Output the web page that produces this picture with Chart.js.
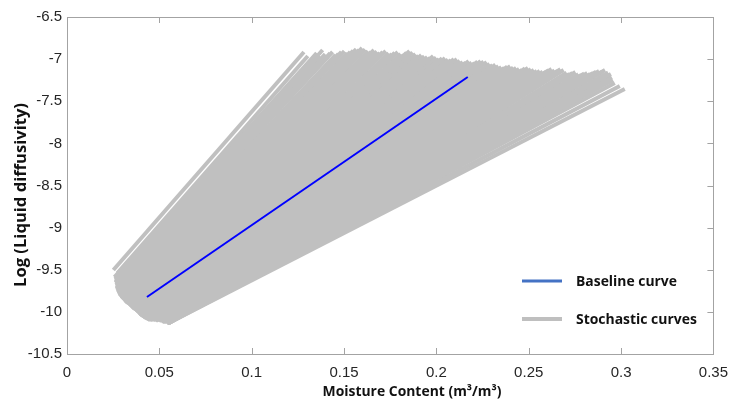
<!DOCTYPE html>
<html>
<head>
<meta charset="utf-8">
<script src="https://cdn.jsdelivr.net/npm/chart.js@4.4.0/dist/chart.umd.min.js"></script>
<style>
  html, body { margin: 0; padding: 0; background: #fff; }
  canvas { display: block; }
</style>
</head>
<body>
<canvas id="chart" width="738" height="405"></canvas>
<script>
const xTicks = [0, 0.05, 0.1, 0.15, 0.2, 0.25, 0.3, 0.35];
const yTicks = [-10.5, -10, -9.5, -9, -8.5, -8, -7.5, -7, -6.5];

// baseline curve, straight line in log space
const baselineX = [0.0433, 0.217];
const baselineY = [-9.824, -7.212];

// stochastic curves: one straight segment each (start -> end)
const curveStartX = [
  0.0251, 0.0273, 0.0257, 0.0260, 0.0262, 0.0262, 0.0262, 0.0265, 0.0267, 0.0267,
  0.0267, 0.0270, 0.0273, 0.0275, 0.0278, 0.0281, 0.0283, 0.0286, 0.0289, 0.0292,
  0.0294, 0.0300, 0.0305, 0.0308, 0.0310, 0.0313, 0.0315, 0.0321, 0.0326, 0.0329,
  0.0331, 0.0334, 0.0337, 0.0342, 0.0347, 0.0350, 0.0353, 0.0358, 0.0363, 0.0366,
  0.0369, 0.0372, 0.0374, 0.0380, 0.0385, 0.0388, 0.0390, 0.0393, 0.0396, 0.0401,
  0.0406, 0.0409, 0.0412, 0.0417, 0.0422, 0.0428, 0.0433, 0.0436, 0.0438, 0.0444,
  0.0449, 0.0452, 0.0454, 0.0460, 0.0465, 0.0468, 0.0470, 0.0476, 0.0481, 0.0484,
  0.0486, 0.0492, 0.0497, 0.0500, 0.0502, 0.0508, 0.0513, 0.0516, 0.0518, 0.0521,
  0.0524, 0.0527, 0.0529, 0.0532, 0.0535, 0.0538, 0.0540, 0.0540, 0.0540, 0.0540,
  0.0540, 0.0543, 0.0545, 0.0545, 0.0545, 0.0545, 0.0545, 0.0545, 0.0545, 0.0548,
  0.0551, 0.0551, 0.0551, 0.0551, 0.0551, 0.0551, 0.0551, 0.0551
];
const curveStartY = [
  -9.503, -9.539, -9.586, -9.604, -9.622, -9.640, -9.657, -9.675, -9.693, -9.711,
  -9.729, -9.746, -9.764, -9.776, -9.788, -9.800, -9.812, -9.818, -9.824, -9.836,
  -9.847, -9.853, -9.859, -9.871, -9.883, -9.889, -9.895, -9.901, -9.907, -9.913,
  -9.919, -9.925, -9.930, -9.942, -9.954, -9.960, -9.966, -9.972, -9.978, -9.984,
  -9.990, -9.996, -10.002, -10.014, -10.025, -10.031, -10.037, -10.043, -10.049, -10.055,
  -10.061, -10.067, -10.073, -10.079, -10.085, -10.091, -10.097, -10.097, -10.097, -10.097,
  -10.097, -10.097, -10.097, -10.097, -10.097, -10.097, -10.097, -10.103, -10.108, -10.103,
  -10.097, -10.103, -10.108, -10.108, -10.108, -10.114, -10.120, -10.120, -10.120, -10.120,
  -10.120, -10.120, -10.120, -10.120, -10.120, -10.120, -10.120, -10.126, -10.132, -10.132,
  -10.132, -10.132, -10.132, -10.132, -10.132, -10.132, -10.132, -10.132, -10.132, -10.132,
  -10.132, -10.132, -10.132, -10.126, -10.132, -10.126, -10.132, -10.132
];
const curveEndX = [
  0.1283, 0.1304, 0.1352, 0.1368, 0.1384, 0.1398, 0.1411, 0.1425, 0.1438, 0.1454,
  0.1470, 0.1486, 0.1502, 0.1518, 0.1534, 0.1550, 0.1566, 0.1582, 0.1598, 0.1614,
  0.1630, 0.1646, 0.1662, 0.1678, 0.1694, 0.1710, 0.1726, 0.1742, 0.1759, 0.1775,
  0.1791, 0.1807, 0.1823, 0.1839, 0.1855, 0.1871, 0.1887, 0.1903, 0.1919, 0.1935,
  0.1951, 0.1967, 0.1983, 0.1999, 0.2015, 0.2031, 0.2047, 0.2063, 0.2079, 0.2095,
  0.2111, 0.2127, 0.2143, 0.2159, 0.2175, 0.2191, 0.2207, 0.2223, 0.2240, 0.2256,
  0.2272, 0.2288, 0.2304, 0.2320, 0.2336, 0.2352, 0.2368, 0.2384, 0.2400, 0.2416,
  0.2432, 0.2448, 0.2464, 0.2480, 0.2496, 0.2512, 0.2528, 0.2544, 0.2560, 0.2576,
  0.2592, 0.2608, 0.2624, 0.2640, 0.2656, 0.2672, 0.2689, 0.2705, 0.2721, 0.2737,
  0.2753, 0.2769, 0.2785, 0.2801, 0.2817, 0.2833, 0.2849, 0.2865, 0.2881, 0.2897,
  0.2913, 0.2930, 0.2945, 0.2950, 0.2956, 0.2966, 0.2993, 0.3020
];
const curveEndY = [
  -6.915, -6.963, -6.927, -6.960, -6.892, -6.940, -6.975, -6.930, -6.915, -6.950,
  -6.939, -6.915, -6.904, -6.930, -6.915, -6.900, -6.880, -6.890, -6.868, -6.885,
  -6.904, -6.915, -6.892, -6.910, -6.927, -6.915, -6.904, -6.930, -6.939, -6.925,
  -6.915, -6.940, -6.951, -6.925, -6.904, -6.920, -6.939, -6.960, -6.951, -6.965,
  -6.975, -6.985, -6.963, -6.980, -6.999, -6.990, -6.987, -7.005, -7.010, -7.000,
  -6.999, -7.020, -7.034, -7.040, -7.022, -7.040, -7.046, -7.030, -7.022, -7.030,
  -7.034, -7.055, -7.070, -7.065, -7.082, -7.095, -7.105, -7.090, -7.082, -7.100,
  -7.105, -7.115, -7.129, -7.110, -7.105, -7.120, -7.129, -7.140, -7.141, -7.150,
  -7.153, -7.130, -7.117, -7.135, -7.141, -7.120, -7.129, -7.160, -7.177, -7.165,
  -7.153, -7.180, -7.188, -7.170, -7.165, -7.175, -7.165, -7.150, -7.141, -7.150,
  -7.129, -7.160, -7.177, -7.215, -7.248, -7.283, -7.318, -7.355
];

const legendItems = [
  { label: "Baseline curve", color: "#4472c4", width: 3 },
  { label: "Stochastic curves", color: "#bfbfbf", width: 4 }
];

const GRAY = "#c0c0c0";
const BLUE = "#0000ff";
const TICK_FONT = "'Liberation Sans', Arial, sans-serif";
const BOLD_FONT = "'Open Sans', 'Liberation Sans', sans-serif";

// first dataset is painted last, so the baseline goes first
const datasets = [{
  label: "Baseline curve",
  data: baselineX.map((x, i) => ({ x, y: baselineY[i] })),
  showLine: true,
  borderColor: BLUE,
  borderWidth: 2,
  pointRadius: 0
}];

curveStartX.forEach((x0, i) => {
  datasets.push({
    label: "Stochastic curves",
    data: [
      { x: x0, y: curveStartY[i] },
      { x: curveEndX[i], y: curveEndY[i] }
    ],
    showLine: true,
    borderColor: GRAY,
    borderWidth: 4,
    borderCapStyle: "butt",
    pointRadius: 0
  });
});

// sets a font size so the text spans roughly the given width
function fitText(ctx, text, weight, size, family, targetWidth) {
  ctx.font = `${weight} ${size}px ${family}`;
  const w = ctx.measureText(text).width;
  const s = size * targetWidth / w;
  ctx.font = `${weight} ${s.toFixed(2)}px ${family}`;
}

const decorations = {
  id: "decorations",
  afterDraw(chart) {
    const { ctx, chartArea: a, scales } = chart;
    ctx.save();

    // axes box with inward ticks
    ctx.strokeStyle = "#a3a3a3";
    ctx.lineWidth = 1;
    ctx.strokeRect(Math.round(a.left) + 0.5, Math.round(a.top) + 0.5,
      Math.round(a.right - a.left), Math.round(a.bottom - a.top));
    ctx.beginPath();
    xTicks.forEach((v) => {
      const px = Math.round(scales.x.getPixelForValue(v)) + 0.5;
      ctx.moveTo(px, a.bottom);
      ctx.lineTo(px, a.bottom - 6);
      ctx.moveTo(px, a.top);
      ctx.lineTo(px, a.top + 6);
    });
    yTicks.forEach((v) => {
      const py = Math.round(scales.y.getPixelForValue(v)) + 0.5;
      ctx.moveTo(a.right, py);
      ctx.lineTo(a.right - 6, py);
    });
    ctx.stroke();

    // axis titles
    ctx.fillStyle = "#111";
    ctx.textAlign = "center";
    ctx.textBaseline = "middle";
    fitText(ctx, "Moisture Content (m³/m³)", 700, 15, BOLD_FONT, 179);
    ctx.fillText("Moisture Content (m³/m³)", 412, 392);

    ctx.save();
    ctx.translate(21, 195);
    ctx.rotate(-Math.PI / 2);
    fitText(ctx, "Log (Liquid diffusivity)", 700, 15, BOLD_FONT, 184);
    ctx.fillText("Log (Liquid diffusivity)", 0, 0);
    ctx.restore();

    // legend
    const rows = [281, 319];
    ctx.textAlign = "left";
    legendItems.forEach((item, i) => {
      const y = rows[i];
      ctx.strokeStyle = item.color;
      ctx.lineWidth = item.width;
      ctx.beginPath();
      ctx.moveTo(522, y);
      ctx.lineTo(562, y);
      ctx.stroke();
      fitText(ctx, item.label, 700, 15, BOLD_FONT, i === 0 ? 101 : 121);
      ctx.fillStyle = "#111";
      ctx.fillText(item.label, 576, y + 1);
    });

    ctx.restore();
  }
};

new Chart(document.getElementById("chart"), {
  type: "scatter",
  data: { datasets },
  options: {
    responsive: false,
    animation: false,
    devicePixelRatio: 1,
    layout: { padding: { top: 17, right: 16, left: 0, bottom: 0 } },
    plugins: {
      legend: { display: false },
      tooltip: { enabled: false }
    },
    scales: {
      x: {
        type: "linear",
        min: 0,
        max: 0.35,
        afterBuildTicks: (s) => { s.ticks = xTicks.map((v) => ({ value: v })); },
        afterFit: (s) => { s.height = 51; },
        grid: { display: false, drawTicks: false },
        border: { display: false },
        ticks: {
          autoSkip: false,
          maxRotation: 0,
          padding: 10,
          color: "#262626",
          font: { family: TICK_FONT, size: 15 },
          callback: (v) => String(v)
        }
      },
      y: {
        type: "linear",
        min: -10.5,
        max: -6.5,
        afterBuildTicks: (s) => { s.ticks = yTicks.map((v) => ({ value: v })); },
        afterFit: (s) => { s.width = 67; },
        grid: { display: false, drawTicks: false },
        border: { display: false },
        ticks: {
          autoSkip: false,
          padding: 5,
          color: "#262626",
          font: { family: TICK_FONT, size: 15 },
          callback: (v) => String(v)
        }
      }
    }
  },
  plugins: [decorations]
});
</script>
</body>
</html>
